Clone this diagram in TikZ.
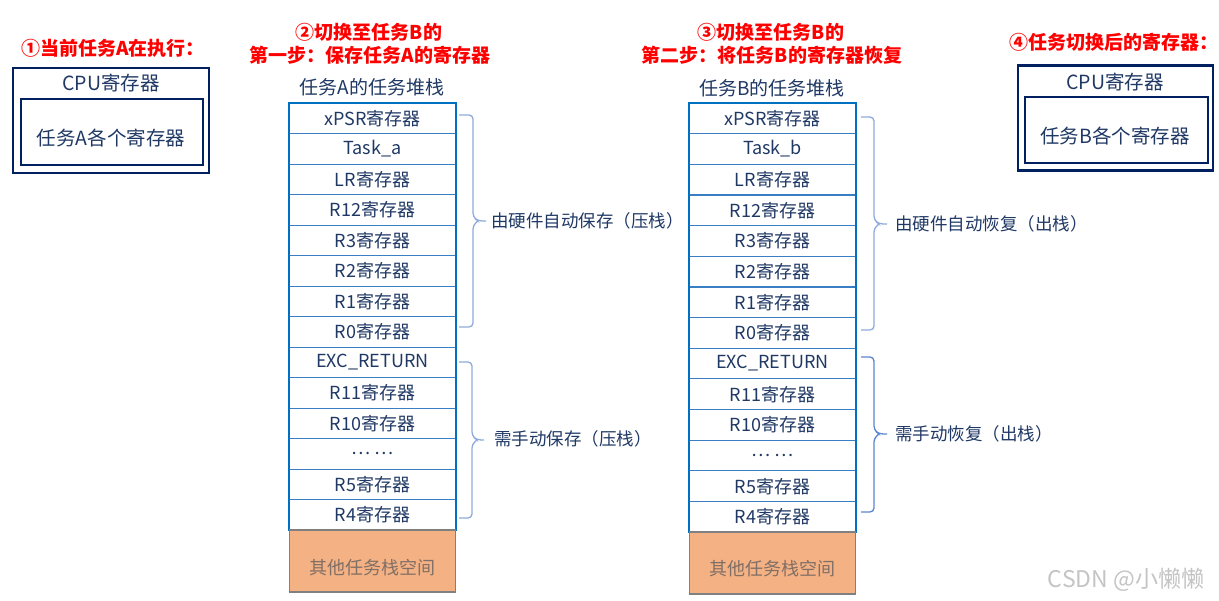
\documentclass[tikz,border=0pt]{standalone}
\usepackage{fontspec}
\setmainfont{Noto Sans CJK SC}
\definecolor{navy}{HTML}{1F3864}
\definecolor{boxnavy}{HTML}{002060}
\definecolor{stackblue}{HTML}{0070C0}
\definecolor{rowblue}{HTML}{3A7FC4}
\definecolor{bracec}{HTML}{8FAADC}
\definecolor{braced}{HTML}{5B84CF}
\definecolor{orangef}{HTML}{F4B183}
\definecolor{orangetext}{HTML}{806F66}
\definecolor{wmark}{HTML}{C4C4C4}
\newcommand\mybrace[7]{%
  \draw[#7, line width=1.3pt, rounded corners=4pt] (#1,#4) -- (#2,#4) -- (#2,{#5-4}) -- ({#2+5},#5) -- (#3,#5);
  \draw[#7, line width=1.3pt, rounded corners=4pt] (#1,#6) -- (#2,#6) -- (#2,{#5+4}) -- ({#2+5},#5);
}
\begin{document}
\begin{tikzpicture}[x=1pt,y=-1pt,
  title/.style={text=red, font=\fontsize{19}{21}\selectfont\bfseries, inner sep=0pt},
  lbl/.style={text=navy, font=\fontsize{18}{20}\selectfont, inner sep=0pt},
  boxlbl/.style={lbl, font=\fontsize{19.5}{21}\selectfont},
  cell/.style={draw=rowblue, line width=0.9pt, minimum width=166pt, minimum height=30.5pt, inner sep=0pt, text=navy, font=\fontsize{18}{20}\selectfont},
  regbox/.style={draw=boxnavy, line width=2.2pt, inner sep=0pt},
  outer/.style={draw=stackblue, line width=2pt},
  otherspace/.style={draw=gray, line width=1.5pt, fill=orangef, minimum width=166pt, minimum height=62pt, inner sep=0pt}
]
\useasboundingbox (0,0) rectangle (1219,601);

% titles
\node[title] (t1) at (113,48) {①当前任务A在执行：};
\node[title] (t2a) at (369,32) {②切换至任务B的};
\node[title] (t2b) at (370,55) {第一步：保存任务A的寄存器};
\node[title] (t3a) at (771,32) {③切换至任务B的};
\node[title] (t3b) at (772,55) {第二步：将任务B的寄存器恢复};
\node[title] (t4) at (1114,42) {④任务切换后的寄存器：};

% left register box
\node[regbox, minimum width=196pt, minimum height=105pt] (boxA) at (111,120.5) {};
\node[regbox, minimum width=182pt, minimum height=66pt] (innerA) at (112,132) {};
\node[boxlbl] (cpuA) at (111,83) {CPU寄存器};
\node[boxlbl] (regsA) at (111,138) {任务A各个寄存器};

% right register box
\node[regbox, minimum width=195pt, minimum height=105pt] (boxB) at (1115.5,118) {};
\node[regbox, minimum width=183pt, minimum height=66pt] (innerB) at (1116.5,130) {};
\node[boxlbl] (cpuB) at (1115,82) {CPU寄存器};
\node[boxlbl] (regsB) at (1115,136) {任务B各个寄存器};

% stack A
\node[lbl, font=\fontsize{19}{21}\selectfont] (sa) at (372,87) {任务A的任务堆栈};
\foreach \t [count=\i] in {xPSR寄存器, Task\_a, LR寄存器, R12寄存器, R3寄存器, R2寄存器, R1寄存器, R0寄存器, EXC\_RETURN, R11寄存器, R10寄存器, … …, R5寄存器, R4寄存器}
  \node[cell] (a\i) at (372.5,{103+30.5*(\i-0.5)}) {\t};
\draw[outer] (a1.north west) rectangle (a14.south east);
\node[otherspace] (ao) at (372.5,561) {};
\node[lbl, text=orangetext] (aot) at (372,568) {其他任务栈空间};

% stack B
\node[lbl, font=\fontsize{19}{21}\selectfont] (sb) at (772,88) {任务B的任务堆栈};
\foreach \t [count=\i] in {xPSR寄存器, Task\_b, LR寄存器, R12寄存器, R3寄存器, R2寄存器, R1寄存器, R0寄存器, EXC\_RETURN, R11寄存器, R10寄存器, … …, R5寄存器, R4寄存器}
  \node[cell] (b\i) at (772.5,{103+30.65*(\i-0.5)}) {\t};
\draw[outer] (b1.north west) rectangle (b14.south east);
\node[otherspace] (bo) at (772.5,563) {};
\node[lbl, text=orangetext] (bot) at (772,569) {其他任务栈空间};

% braces
\mybrace{459}{473}{486}{115}{221}{327}{bracec}
\mybrace{459}{472}{484}{362}{440}{518}{bracec}
\mybrace{861}{874}{887}{117}{224}{330}{bracec}
\mybrace{861}{874}{887}{357}{434}{512}{braced}

% brace labels
\node[lbl, anchor=west, font=\fontsize{17.5}{20}\selectfont] (la1) at (491,221) {由硬件自动保存（压栈）};
\node[lbl, anchor=west, font=\fontsize{17.5}{20}\selectfont] (la2) at (494,439) {需手动保存（压栈）};
\node[lbl, anchor=west, font=\fontsize{17.5}{20}\selectfont] (lb1) at (895,224) {由硬件自动恢复（出栈）};
\node[lbl, anchor=west, font=\fontsize{17.5}{20}\selectfont] (lb2) at (895,434) {需手动恢复（出栈）};

% watermark
\node[lbl, text=wmark, font=\fontsize{23}{25}\selectfont] (wm) at (1126,580) {CSDN @小懒懒};
\end{tikzpicture}
\end{document}
